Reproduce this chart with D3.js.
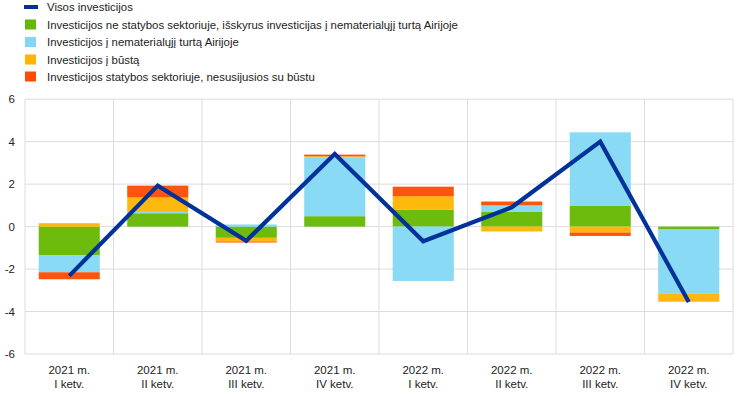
<!DOCTYPE html>
<html>
<head>
<meta charset="utf-8">
<script src="https://cdn.jsdelivr.net/npm/d3@7"></script>
<style>
  body { margin: 0; background: #fff; }
  svg { display: block; font-family: "Liberation Sans", Arial, sans-serif; }
</style>
</head>
<body>
<div id="chart"></div>
<script>
const quarters = [
  ["2021 m.", "I ketv."], ["2021 m.", "II ketv."], ["2021 m.", "III ketv."], ["2021 m.", "IV ketv."],
  ["2022 m.", "I ketv."], ["2022 m.", "II ketv."], ["2022 m.", "III ketv."], ["2022 m.", "IV ketv."]
];
const seriesNames = [
  "Investicijos ne statybos sektoriuje, išskyrus investicijas į nematerialųjį turtą Airijoje",
  "Investicijos į nematerialųjį turtą Airijoje",
  "Investicijos į būstą",
  "Investicijos statybos sektoriuje, nesusijusios su būstu"
];
const lineName = "Visos investicijos";
const colors = ["#65b800", "#82d8f4", "#ffb400", "#ff4b00"];

const nonConstruction = [-1.36, 0.63, -0.53, 0.49, 0.79, 0.69, 0.97, -0.14];
const intangibleIreland = [-0.79, 0.06, 0.10, 2.76, -2.56, 0.31, 3.47, -3.00];
const housing = [0.16, 0.68, -0.17, 0.06, 0.64, -0.23, -0.28, -0.40];
const nonResidential = [-0.33, 0.56, -0.05, 0.08, 0.45, 0.18, -0.16, 0.00];
const totalInvestment = [-2.32, 1.93, -0.67, 3.42, -0.69, 0.91, 4.00, -3.55];
const yTicks = [-6, -4, -2, 0, 2, 4, 6];

const W = 744, H = 396;
const plotL = 25, plotR = 733, plotT = 99.2, plotB = 354;

const svg = d3.select("#chart").append("svg").attr("width", W).attr("height", H);

const keys = [0, 1, 2, 3];
const rows = quarters.map((q, i) => ({
  i,
  0: nonConstruction[i], 1: intangibleIreland[i], 2: housing[i], 3: nonResidential[i]
}));
const stacked = d3.stack().keys(keys).offset(d3.stackOffsetDiverging)(rows);

const x = d3.scaleBand().domain(d3.range(quarters.length)).range([plotL, plotR])
  .paddingInner(0.31).paddingOuter(0.155);
const xb = d3.scaleBand().domain(d3.range(quarters.length)).range([plotL, plotR]);
const y = d3.scaleLinear().domain([-6, 6]).range([plotB, plotT]);

// grid
const grid = svg.append("g").attr("stroke", "#dcdcdc").attr("stroke-width", 1);
grid.selectAll("line.h").data(yTicks).join("line")
  .attr("x1", plotL).attr("x2", plotR)
  .attr("y1", d => y(d)).attr("y2", d => y(d));
grid.selectAll("line.v").data(d3.range(quarters.length + 1)).join("line")
  .attr("x1", d => plotL + d * xb.bandwidth()).attr("x2", d => plotL + d * xb.bandwidth())
  .attr("y1", plotT).attr("y2", plotB);

// bars
svg.append("g").selectAll("g").data(stacked).join("g")
  .attr("fill", d => colors[d.key])
  .selectAll("rect").data(d => d).join("rect")
  .attr("x", d => x(d.data.i))
  .attr("width", x.bandwidth())
  .attr("y", d => y(Math.max(d[0], d[1])))
  .attr("height", d => Math.abs(y(d[0]) - y(d[1])))
  .attr("fill-opacity", 0.95);

// line
svg.append("path")
  .datum(totalInvestment)
  .attr("fill", "none")
  .attr("stroke", "#003299")
  .attr("stroke-width", 4.2)
  .attr("stroke-linejoin", "miter")
  .attr("d", d3.line().x((d, i) => xb(i) + xb.bandwidth() / 2).y(d => y(d)));

// y axis labels
svg.append("g").selectAll("text").data(yTicks).join("text")
  .attr("x", 15).attr("y", d => y(d) + 4)
  .attr("text-anchor", "end")
  .attr("font-size", 11.5).attr("fill", "#222")
  .text(d => d);

// x axis labels
const xl = svg.append("g").selectAll("text").data(quarters).join("text")
  .attr("text-anchor", "middle")
  .attr("font-size", 11.5).attr("fill", "#222");
xl.append("tspan").attr("x", (d, i) => xb(i) + xb.bandwidth() / 2).attr("y", 374).text(d => d[0]);
xl.append("tspan").attr("x", (d, i) => xb(i) + xb.bandwidth() / 2).attr("y", 387.5).text(d => d[1]);

// legend
const legend = svg.append("g");
const ly = [7, 24.5, 42, 59.5, 76.5];
legend.append("rect").attr("x", 24).attr("y", ly[0] - 2).attr("width", 14).attr("height", 4).attr("fill", "#003299");
legend.append("text").attr("x", 47).attr("y", ly[0] + 4).attr("font-size", 11.4).attr("fill", "#222").text(lineName);
seriesNames.forEach((name, k) => {
  legend.append("rect").attr("x", 25).attr("y", ly[k + 1] - 5).attr("width", 11).attr("height", 10).attr("fill", colors[k]);
  legend.append("text").attr("x", 47).attr("y", ly[k + 1] + 4).attr("font-size", 11.4).attr("fill", "#222").text(name);
});
</script>
</body>
</html>
